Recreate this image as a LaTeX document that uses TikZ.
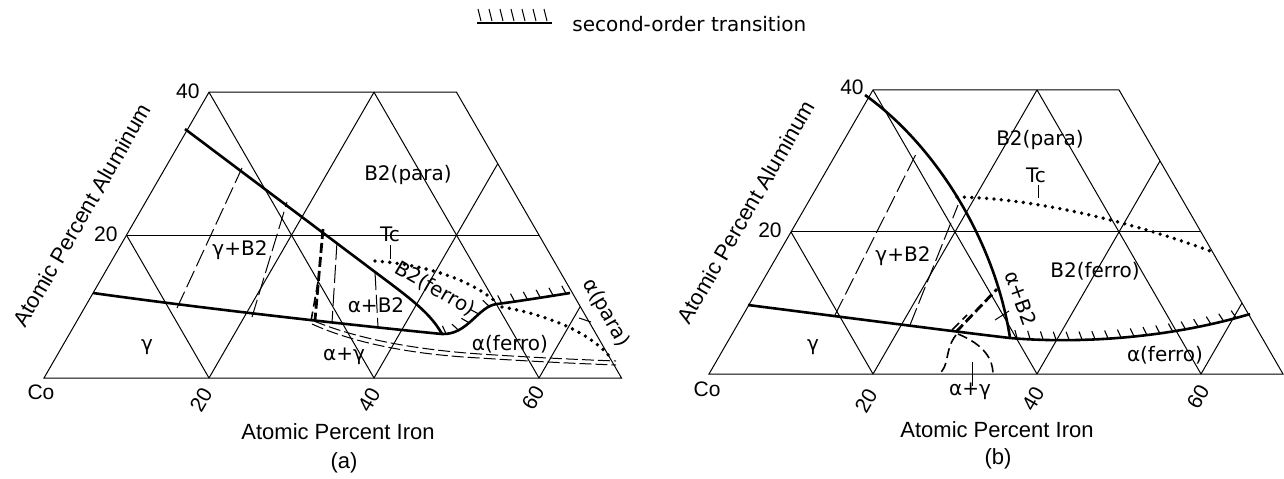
\documentclass[tikz,border=0pt]{standalone}
\usepackage{fontspec}
\setmainfont{Liberation Sans}
\newfontfamily\lab{DejaVu Sans}
\usetikzlibrary{decorations.markings}
\begin{document}
\begin{tikzpicture}[x=0.5pt,y=-0.5pt,
  grid/.style={line width=0.5pt},
  bnd/.style={line width=1.3pt},
  tie/.style={line width=0.5pt, dash pattern=on 9pt off 2.5pt},
  tdash/.style={line width=1.4pt, dash pattern=on 5pt off 2pt},
  ddash/.style={line width=0.5pt, dash pattern=on 6pt off 2pt},
  mdash/.style={line width=0.8pt, dash pattern=on 5pt off 2.5pt},
  tcdot/.style={line width=1.9pt, dash pattern=on 0pt off 3.7pt, line cap=round},
  hatched/.style={bnd, postaction={decorate}, decoration={markings,
     mark=between positions 0.03 and 0.99 step 6.5pt with {\draw[line width=0.55pt] (0pt,0pt) -- (-1.5pt,4.2pt);}}},
  lbl/.style={font=\lab\fontsize{10}{12}\selectfont, inner sep=0pt},
  ax/.style={font=\fontsize{11}{13}\selectfont, inner sep=0pt},
  tk/.style={font=\fontsize{10.5}{12}\selectfont, inner sep=0pt},
  leader/.style={line width=0.5pt},
]
\useasboundingbox (0,0) rectangle (1284,478);

% ---------- legend ----------
\draw[line width=0.7pt] (477,23) -- (552,23);
\foreach \t in {480,491,502,513,524,535,546}
  \draw[line width=0.5pt] (\t-2,9) -- (\t+1,21);
\node[lbl, anchor=base west] (leg) at (572,31) {second-order transition};

% ================= panel (a) =================
\begin{scope}[shift={(44,378)}, x={(4.125pt,0pt)}, y={(2.0625pt,3.5725pt)}]
  \draw[grid] (0,0) -- (70,0) -- (30,40) -- (0,40) -- cycle;
  \draw[grid] (0,20) -- (50,20);
  \draw[grid] (20,0) -- (20,40);
  \draw[grid] (40,0) -- (40,30);
  \draw[grid] (60,0) -- (60,10);
  \draw[grid] (20,0) -- (0,20);
  \draw[grid] (40,0) -- (0,40);
  \draw[grid] (60,0) -- (20,40);
\end{scope}

% boundaries
\draw[bnd] (185,129) -- (395,287) .. controls (420,306) and (433,318) .. (442,334);
\draw[bnd] (93,293) .. controls (200,308) and (350,325) .. (442,334);
\draw[hatched] (442,334) .. controls (468,335) and (478,306) .. (497,304)
   .. controls (520,301) and (545,297) .. (570,293);
% thick dashed
\draw[tdash] (323,229) -- (315,320);
\draw[mdash] (318,282) -- (311,321);
% tie lines
\draw[tie] (177,308) -- (242,168);
\draw[tie] (252,317) -- (287,202);
\draw[tie] (337,242) -- (332,323);
\draw[tie] (375,272) -- (378,327);
% double dashed
\draw[ddash] (314,321) .. controls (360,340) and (420,350) .. (480,354)
   .. controls (540,358) and (590,360) .. (616,361);
\draw[ddash] (312,324) .. controls (358,345) and (420,355) .. (480,358)
   .. controls (540,362) and (590,364) .. (616,365);
% dotted Tc
\draw[tcdot] (375,261) .. controls (420,264) and (470,278) .. (497,303);
\draw[tcdot] (502,307) .. controls (550,315) and (595,335) .. (612,360);

% labels (a)
\node[lbl] (aB2p) at (408,175) {B2(para)};
\node[lbl] (aTc) at (390,234) {Tc};
\draw[leader] (390,245) -- (390,259);
\node[lbl, rotate=-30] (aB2f) at (435,289) {B2(ferro)};
\node[lbl] (aaB2) at (376,305) {α+B2};
\node[lbl] (aag) at (344,356) {α+γ};
\node[lbl] (aaf) at (510,344) {α(ferro)};
\node[lbl, rotate=-60] (aap) at (606,313) {α(para)};
\draw[leader] (579,318) -- (591,322);
\node[lbl] (agB2) at (240,250) {γ+B2};
\node[lbl] (ag) at (147,347) {γ};

\node[tk] (aCo) at (41,392) {Co};
\node[tk, rotate=60] (a20) at (201,400) {20};
\node[tk, rotate=60] (a40) at (369,400) {40};
\node[tk, rotate=60] (a60) at (533,398) {60};
\node[tk, anchor=east] (aL40) at (200,91) {40};
\node[tk, anchor=east] (aL20) at (118,234) {20};
\node[ax, rotate=60] (aAl) at (82,215) {Atomic Percent Aluminum};
\node[ax] (aFe) at (338,432) {Atomic Percent Iron};
\node[ax] (acap) at (344,463) {(a)};

% ================= panel (b) =================
\begin{scope}[shift={(709,374)}, x={(4.1pt,0pt)}, y={(2.05pt,3.551pt)}]
  \draw[grid] (0,0) -- (70,0) -- (30,40) -- (0,40) -- cycle;
  \draw[grid] (0,20) -- (50,20);
  \draw[grid] (20,0) -- (20,40);
  \draw[grid] (40,0) -- (40,30);
  \draw[grid] (60,0) -- (60,10);
  \draw[grid] (20,0) -- (0,20);
  \draw[grid] (40,0) -- (0,40);
  \draw[grid] (60,0) -- (20,40);
\end{scope}

\draw[bnd] (865,95) .. controls (935,145) and (995,240) .. (1010,338);
\draw[bnd] (748,305) .. controls (850,318) and (950,331) .. (1010,338);
\draw[hatched] (1010,338) .. controls (1080,344) and (1170,338) .. (1250,314);
\draw[tdash] (956,332) -- (997,289);
\draw[mdash] (952,330) -- (967,315);
\draw[mdash] (956,335) .. controls (944,350) and (950,368) .. (938,374);
\draw[mdash] (958,334) .. controls (985,345) and (993,360) .. (993,374);
\draw[tcdot] (957,197) .. controls (1040,198) and (1140,225) .. (1213,252);
\draw[tie] (835,315) -- (917,152);
\draw[tie] (910,325) -- (958,205);

\node[lbl] (bB2p) at (1040,140) {B2(para)};
\node[lbl] (bTc) at (1036,175) {Tc};
\draw[leader] (1038,185) -- (1038,198);
\node[lbl] (bB2f) at (1095,271) {B2(ferro)};
\node[lbl, rotate=-70] (baB2) at (1021,298) {α+B2};
\draw[leader] (995,320) -- (1009,311);
\node[lbl] (baf) at (1165,355) {α(ferro)};
\node[lbl] (bag) at (970,391) {α+γ};
\draw[leader] (972,362) -- (972,386);
\node[lbl] (bgB2) at (903,256) {γ+B2};
\node[lbl] (bg) at (813,347) {γ};

\node[tk] (bCo) at (707,389) {Co};
\node[tk, rotate=60] (b20) at (866,401) {20};
\node[tk, rotate=60] (b40) at (1033,399) {40};
\node[tk, rotate=60] (b60) at (1198,397) {60};
\node[tk, anchor=east] (bL40) at (864,87) {40};
\node[tk, anchor=east] (bL20) at (782,230) {20};
\node[ax, rotate=60] (bAl) at (746,212) {Atomic Percent Aluminum};
\node[ax] (bFe) at (997,430) {Atomic Percent Iron};
\node[ax] (bcap) at (998,459) {(b)};
\end{tikzpicture}
\end{document}
